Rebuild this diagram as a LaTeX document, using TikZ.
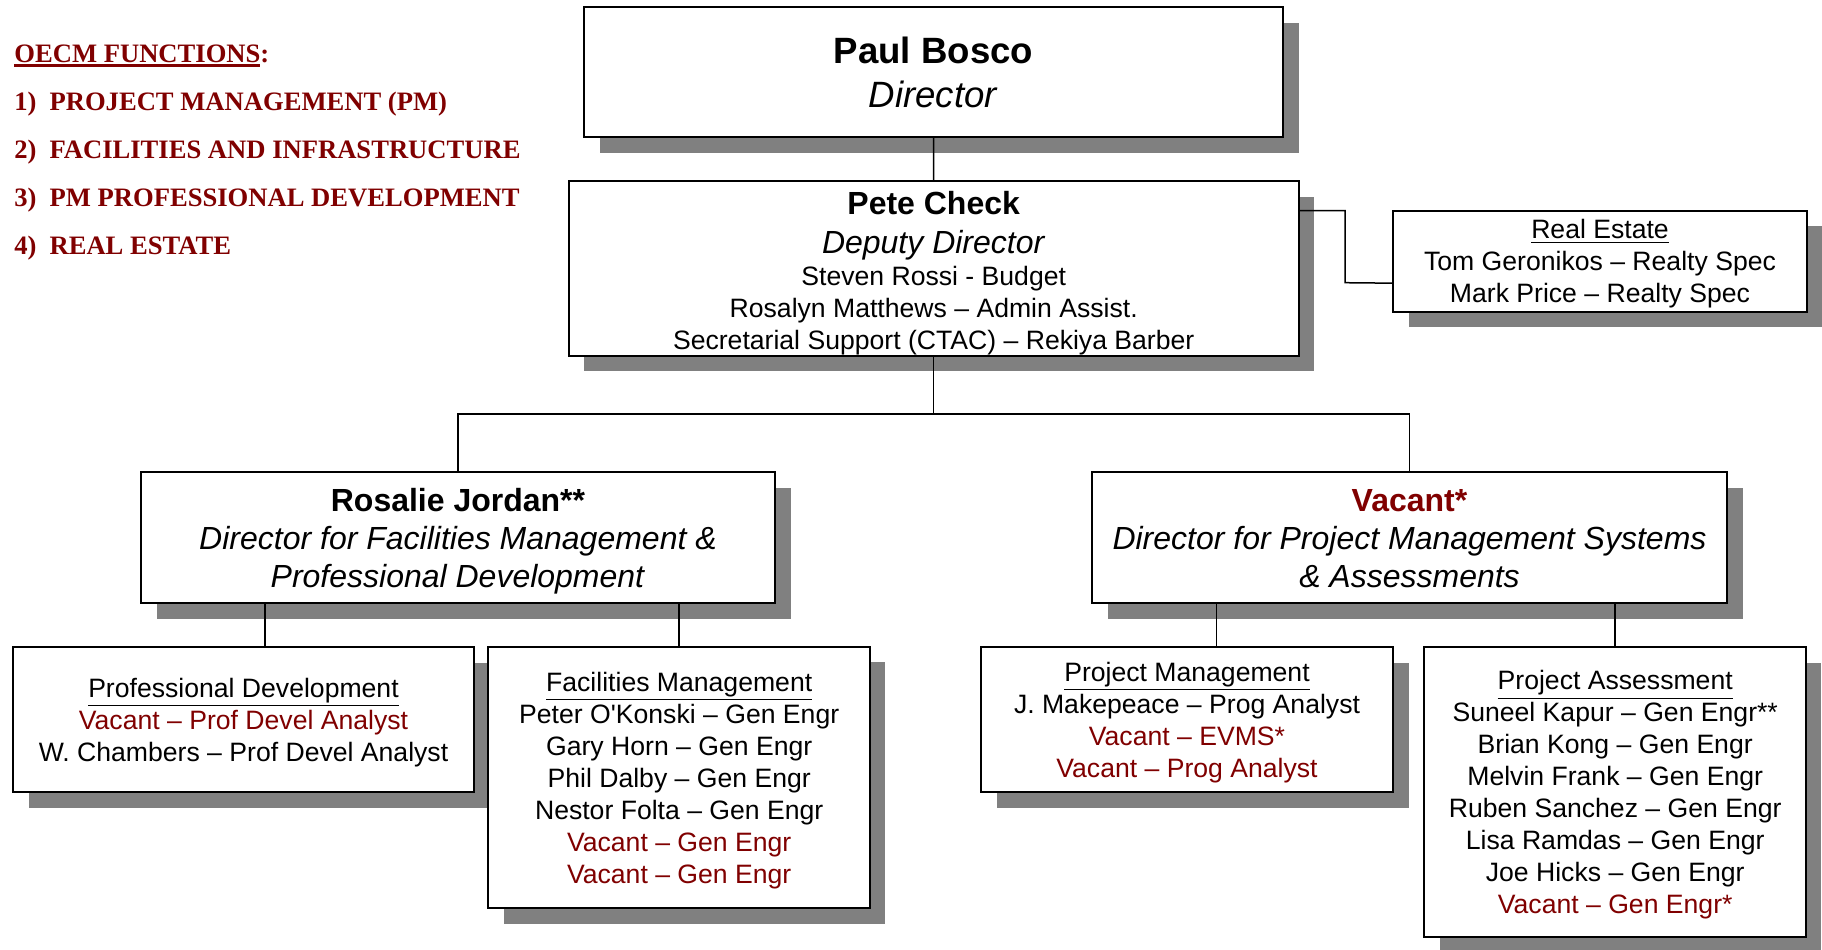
\documentclass[tikz,border=0pt]{standalone}
\usepackage{fontspec}
\setmainfont{Liberation Sans}
\newfontfamily\listfont{Liberation Serif}
\usetikzlibrary{shadows}
\definecolor{vacantred}{RGB}{128,0,0}
\definecolor{shadowgray}{RGB}{128,128,128}
\newcommand{\vacancy}[1]{\textcolor{vacantred}{#1}}
\newcommand{\thickul}[1]{\vtop{\hbox{#1}\kern1pt\hrule height1.5pt}}
\newcommand{\topstrut}[1][1em]{\rule{0pt}{#1}}
\newcommand{\botstrut}{\rule[-0.28em]{0pt}{0.28em}}
\begin{document}
\begin{tikzpicture}[x=0.5pt, y=-0.5pt,
    unit/.style={draw, line width=1pt, fill=white, inner sep=0pt, align=center,
      drop shadow={shadow xshift=7.75pt, shadow yshift=-7.75pt, fill=shadowgray, opacity=1}},
    staff/.style={unit, font=\fontsize{13.3}{16}\selectfont},
    head/.style={unit, font=\fontsize{16}{19}\selectfont},
    link/.style={line width=0.75pt}
  ]
  \useasboundingbox (0,0) rectangle (1822,949);
  \node[anchor=north west, inner sep=0pt, align=left, text=vacantred,
    font=\listfont\bfseries\fontsize{13.3}{24}\selectfont] (functions) at (14,44)
    {\thickul{OECM FUNCTIONS}:\\
     \makebox[17.6pt][l]{1)}PROJECT MANAGEMENT (PM)\\
     \makebox[17.6pt][l]{2)}FACILITIES AND INFRASTRUCTURE\\
     \makebox[17.6pt][l]{3)}PM PROFESSIONAL DEVELOPMENT\\
     \makebox[17.6pt][l]{4)}REAL ESTATE};
  \node[unit, font=\fontsize{18.3}{22}\selectfont, minimum width=349.5pt, minimum height=65pt]
    (boss) at (933.5,72) {\topstrut\textbf{Paul Bosco}\\\botstrut\textit{Director}};
  \node[staff, minimum width=365pt, minimum height=87.25pt] (deputy) at (933.7,268.7)
    {\topstrut[16.5pt]{\fontsize{16}{19}\selectfont\textbf{Pete Check}}\\[3.5pt]
     {\fontsize{16}{19}\selectfont\textit{Deputy Director}}\\
     Steven Rossi - Budget\\
     Rosalyn Matthews – Admin Assist.\\
     Secretarial Support (CTAC) – Rekiya Barber};
  \node[staff, minimum width=207pt, minimum height=50.5pt] (realest) at (1600,261.3)
    {\topstrut\underline{Real Estate}\\Tom Geronikos – Realty Spec\\
     \botstrut Mark Price – Realty Spec};
  \node[head, minimum width=317pt, minimum height=65.5pt] (dirfac) at (458,537.5)
    {\topstrut\textbf{Rosalie Jordan**}\\\textit{Director for Facilities Management \&}\\
     \botstrut\textit{Professional Development}};
  \node[head, minimum width=317.5pt, minimum height=65.5pt] (dirpm) at (1409.5,537.5)
    {\topstrut\vacancy{\textbf{Vacant*}}\\\textit{Director for Project Management Systems}\\
     \botstrut\textit{\& Assessments}};
  \node[staff, minimum width=230.5pt, minimum height=72.5pt] (profdev) at (243.5,719.5)
    {\topstrut\underline{Professional Development}\\\vacancy{Vacant – Prof Devel Analyst}\\
     \botstrut W. Chambers – Prof Devel Analyst};
  \node[staff, minimum width=190.75pt, minimum height=130.75pt] (facil) at (679.2,777.7)
    {\topstrut\underline{Facilities Management}\\Peter O\textquotesingle Konski – Gen Engr\\
     Gary Horn – Gen Engr\\Phil Dalby – Gen Engr\\Nestor Folta – Gen Engr\\
     \vacancy{Vacant – Gen Engr}\\\botstrut\vacancy{Vacant – Gen Engr}};
  \node[staff, minimum width=206pt, minimum height=72.5pt] (projmgmt) at (1187,719.5)
    {\topstrut\underline{Project Management}\\J. Makepeace – Prog Analyst\\
     \vacancy{Vacant – EVMS*}\\\botstrut\vacancy{Vacant – Prog Analyst}};
  \node[staff, minimum width=190.75pt, minimum height=145pt] (projassess) at (1615.2,792)
    {\topstrut\underline{Project Assessment}\\Suneel Kapur – Gen Engr**\\Brian Kong – Gen Engr\\
     Melvin Frank – Gen Engr\\Ruben Sanchez – Gen Engr\\Lisa Ramdas – Gen Engr\\
     Joe Hicks – Gen Engr\\\botstrut\vacancy{Vacant – Gen Engr*}};
  \coordinate (rebend) at (1345,282.7);
  \coordinate (bus) at (933.7,414);
  \draw[link] (boss.south) -- (deputy.north);
  \draw[link] (deputy.9) -| (rebend) -- (realest.186);
  \draw[link] (deputy.south) -- (bus);
  \draw[link] (dirfac.north) |- (bus) -| (dirpm.north);
  \draw[link] (dirfac.199) -- (dirfac.199 |- profdev.north);
  \draw[link] (facil.north) -- (facil.north |- dirfac.south);
  \draw[link] (dirpm.199) -- (dirpm.199 |- projmgmt.north);
  \draw[link] (projassess.north) -- (projassess.north |- dirpm.south);
\end{tikzpicture}
\end{document}
